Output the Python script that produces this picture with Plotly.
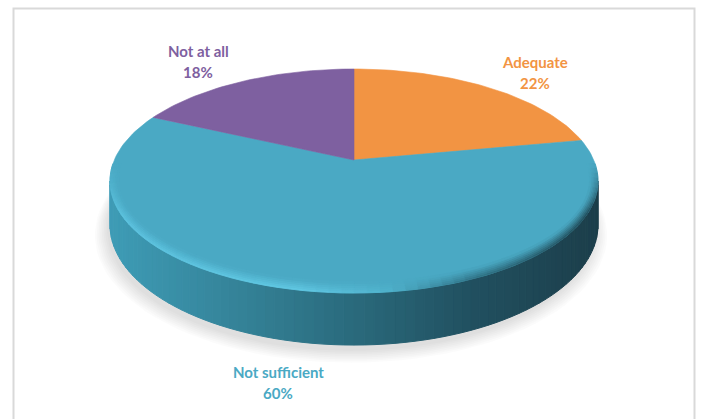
import math
import plotly.graph_objects as go

# ---- data ----
categories = ["Adequate", "Not sufficient", "Not at all"]
values = [22, 60, 18]
colors = ["#F29443", "#4AA9C4", "#7E60A0"]

# ---- geometry (layout) ----
W, H = 701, 419
CX, CY = 354.0, 160.0      # projected pie centre
K = 0.1875                 # perspective factor
A = 239.7                  # horizontal scale
B = 108.06                 # vertical scale
DEPTH = 42.3               # side thickness


def proj(phi_deg, depth=0.0, sa=1.0, sb=1.0):
    p = math.radians(phi_deg)
    u, v = math.sin(p), math.cos(p)
    w = 1 + K * v
    return CX + A * sa * u / w, CY - B * sb * v / w + depth / w


def hx(c):
    return [int(c[i:i + 2], 16) for i in (1, 3, 5)]


def lerp_col(c1, c2, t):
    a, b = hx(c1), hx(c2)
    t = max(0.0, min(1.0, t))
    return "#%02x%02x%02x" % tuple(round(a[i] + (b[i] - a[i]) * t) for i in range(3))


def ramp(stops, x):
    if x <= stops[0][0]:
        return stops[0][1]
    for (x0, c0), (x1, c1) in zip(stops, stops[1:]):
        if x <= x1:
            return lerp_col(c0, c1, (x - x0) / (x1 - x0))
    return stops[-1][1]


SIDE_STOPS = [(110, "#3E9CB6"), (230, "#35849A"), (354, "#2A6A7C"),
              (470, "#215060"), (598, "#1C3E4A")]
EDGE_STOPS = [(110, "#5EC4E0"), (300, "#63CBE6"), (390, "#4FB2CC"),
              (470, "#2F7083"), (598, "#1E4450")]

fig = go.Figure()

# soft shadow under the pie
n_sh = 8
for i in range(n_sh):
    s = 1.05 - 0.05 * i / (n_sh - 1)
    xs, ys = [], []
    for d in range(0, 361, 3):
        x, y = proj(d, DEPTH + 9 - i * 0.6, s, s)
        xs.append(x - 3)
        ys.append(y)
    fig.add_trace(go.Scatter(x=xs, y=ys, mode="lines", fill="toself",
                             fillcolor="rgba(0,0,0,0.014)", line=dict(width=0),
                             hoverinfo="skip", showlegend=False))

# side wall (front part belongs to the big slice)
phi_r = math.degrees(math.acos(-K))
phi_l = 360 - phi_r
N = 80
for i in range(N):
    pa = phi_r + (phi_l - phi_r) * i / N
    pb = phi_r + (phi_l - phi_r) * (i + 1) / N
    ta, tb = proj(pa), proj(pb)
    ba, bb = proj(pa, DEPTH), proj(pb, DEPTH)
    col = ramp(SIDE_STOPS, (ta[0] + tb[0]) / 2)
    fig.add_trace(go.Scatter(x=[ta[0], tb[0], bb[0], ba[0], ta[0]],
                             y=[ta[1], tb[1], bb[1], ba[1], ta[1]],
                             mode="lines", fill="toself", fillcolor=col,
                             line=dict(width=1, color=col),
                             hoverinfo="skip", showlegend=False))

# top faces of the slices
total = sum(values)
start = 0.0
for cat, val, col in zip(categories, values, colors):
    end = start + 360.0 * val / total
    xs, ys = [CX], [CY]
    n = max(4, int((end - start) / 1.5))
    for j in range(n + 1):
        x, y = proj(start + (end - start) * j / n)
        xs.append(x)
        ys.append(y)
    xs.append(CX)
    ys.append(CY)
    fig.add_trace(go.Scatter(x=xs, y=ys, mode="lines", fill="toself",
                             fillcolor=col, line=dict(width=0.6, color=col),
                             name=cat, hoverinfo="name", showlegend=False))
    start = end

# bevel on the front rim of the big slice
top_col = colors[1]
bev_lo, bev_hi = 92.0, 268.0
NB = 70
layers = 6
for L in range(layers):
    s_out = 1.0 - 0.035 * L / layers
    s_in = 1.0 - 0.035 * (L + 1) / layers
    b_out = 1.0 - 0.085 * L / layers
    b_in = 1.0 - 0.085 * (L + 1) / layers
    tr = (L + 0.5) / layers
    for i in range(NB):
        pa = bev_lo + (bev_hi - bev_lo) * i / NB
        pb = bev_lo + (bev_hi - bev_lo) * (i + 1) / NB
        oa, ob = proj(pa, 0, s_out, b_out), proj(pb, 0, s_out, b_out)
        ia, ib = proj(pa, 0, s_in, b_in), proj(pb, 0, s_in, b_in)
        pm = (pa + pb) / 2
        fade = min(1.0, min(pm - bev_lo, bev_hi - pm) / 25.0)
        edge = ramp(EDGE_STOPS, (oa[0] + ob[0]) / 2)
        col = lerp_col(edge, top_col, 1 - (1 - tr ** 0.9) * fade)
        fig.add_trace(go.Scatter(x=[oa[0], ob[0], ib[0], ia[0], oa[0]],
                                 y=[oa[1], ob[1], ib[1], ia[1], oa[1]],
                                 mode="lines", fill="toself", fillcolor=col,
                                 line=dict(width=0.8, color=col),
                                 hoverinfo="skip", showlegend=False))

# data labels
label_pos = [(535, 62), (278, 372), (198, 51)]
for cat, val, (lx, ly), col in zip(categories, values, label_pos, colors):
    fig.add_annotation(x=lx, y=ly, text=f"<b>{cat}</b>", showarrow=False,
                       font=dict(family="Lato", size=15, color=col),
                       xanchor="center", yanchor="middle")
    fig.add_annotation(x=lx, y=ly + 21, text=f"<b>{val}%</b>", showarrow=False,
                       font=dict(family="Lato", size=15, color=col),
                       xanchor="center", yanchor="middle")

# chart frame
fig.add_shape(type="rect", x0=13.5, y0=8.5, x1=694.5, y1=440,
              line=dict(color="#D9D9D9", width=2), layer="above")

fig.update_layout(
    width=W, height=H,
    margin=dict(l=0, r=0, t=0, b=0),
    paper_bgcolor="white", plot_bgcolor="white",
    xaxis=dict(range=[0, W], visible=False, fixedrange=True),
    yaxis=dict(range=[H, 0], visible=False, fixedrange=True),
    showlegend=False,
)

fig.write_html("out.html",
               config={"displayModeBar": False},
               post_script="document.body.style.margin='0';"
                           "document.body.style.overflow='hidden';")
